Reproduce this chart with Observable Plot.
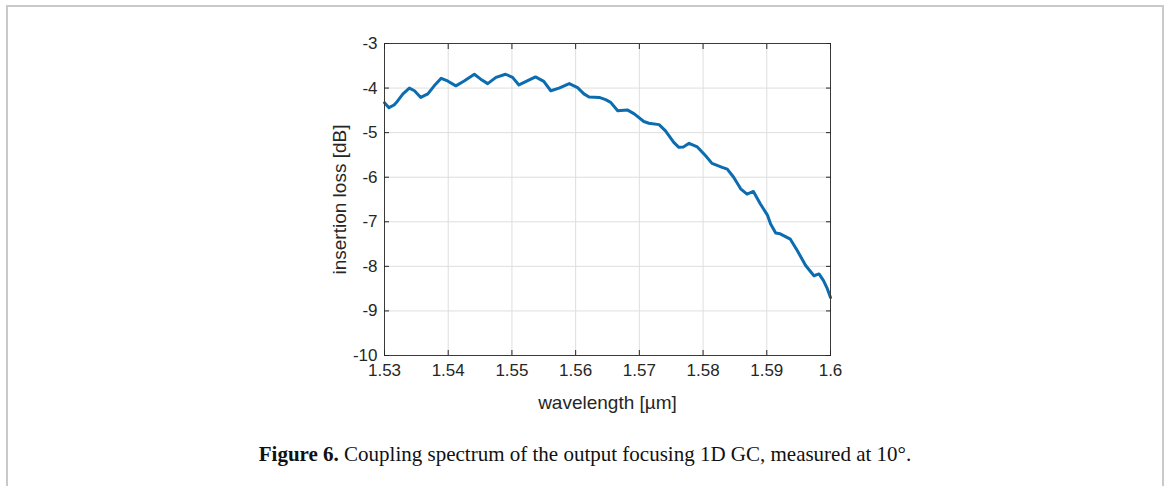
<!DOCTYPE html>
<html>
<head>
<meta charset="utf-8">
<script src="https://cdn.jsdelivr.net/npm/d3@7"></script>
<script src="https://cdn.jsdelivr.net/npm/@observablehq/plot@0.6"></script>
<style>
  html, body { margin: 0; padding: 0; background: #fff; }
  #page { position: relative; width: 1170px; height: 486px; overflow: hidden; background: #fff; }
  #frame { position: absolute; left: 6px; top: 5px; width: 1158px; height: 520px;
           border: 2px solid #c9c9c9; border-bottom: none; box-sizing: border-box; }
  #chart { position: absolute; left: 0; top: 0; }
  #caption { position: absolute; left: 0; width: 1170px; top: 442px; text-align: center;
             font-family: "Liberation Serif", "DejaVu Serif", serif; font-size: 21px; color: #111; }
  #caption b { font-weight: bold; }
</style>
</head>
<body>
<div id="page">
  <div id="frame"></div>
  <div id="chart"></div>
  <div id="caption"><b>Figure 6.</b> Coupling spectrum of the output focusing 1D GC, measured at 10°.</div>
</div>
<script>
// wavelength [µm]
const wavelength = [
  1.5300, 1.5307, 1.5315, 1.5320, 1.5329, 1.5339, 1.5347, 1.5357, 1.5368, 1.5378,
  1.5389, 1.5399, 1.5412, 1.5425, 1.5441, 1.5451, 1.5462, 1.5475, 1.5490, 1.5501,
  1.5511, 1.5524, 1.5537, 1.5550, 1.5561, 1.5574, 1.5590, 1.5603, 1.5613, 1.5621,
  1.5637, 1.5647, 1.5655, 1.5666, 1.5681, 1.5692, 1.5707, 1.5715, 1.5731, 1.5741,
  1.5754, 1.5762, 1.5769, 1.5778, 1.5791, 1.5804, 1.5814, 1.5830, 1.5838, 1.5848,
  1.5859, 1.5869, 1.5879, 1.5890, 1.5901, 1.5906, 1.5914, 1.5921, 1.5937, 1.5948,
  1.5961, 1.5974, 1.5982, 1.5989, 1.5995, 1.6000
];
// insertion loss [dB]
const insertionLoss = [
  -4.33, -4.44, -4.38, -4.30, -4.13, -4.00, -4.06, -4.21, -4.13, -3.95,
  -3.78, -3.84, -3.95, -3.84, -3.69, -3.80, -3.90, -3.76, -3.69, -3.76,
  -3.93, -3.84, -3.75, -3.85, -4.06, -4.00, -3.90, -3.99, -4.13, -4.20,
  -4.21, -4.26, -4.32, -4.51, -4.49, -4.58, -4.75, -4.79, -4.82, -4.96,
  -5.22, -5.33, -5.32, -5.24, -5.32, -5.52, -5.69, -5.78, -5.82, -6.00,
  -6.26, -6.38, -6.32, -6.60, -6.85, -7.05, -7.25, -7.27, -7.39, -7.65,
  -7.98, -8.21, -8.17, -8.32, -8.50, -8.70
];
const xTicks = [1.53, 1.54, 1.55, 1.56, 1.57, 1.58, 1.59, 1.60];
const xTickLabels = ["1.53", "1.54", "1.55", "1.56", "1.57", "1.58", "1.59", "1.6"];
const yTicks = [-10, -9, -8, -7, -6, -5, -4, -3];
const yTickLabels = ["-10", "-9", "-8", "-7", "-6", "-5", "-4", "-3"];
const xLabel = "wavelength [µm]";
const yLabel = "insertion loss [dB]";

const data = wavelength.map((w, i) => ({w, il: insertionLoss[i]}));
const xFmt = d => xTickLabels[xTicks.findIndex(t => Math.abs(t - d) < 1e-9)];
const yFmt = d => yTickLabels[yTicks.indexOf(d)];
const blank = () => "";

const ink = "#262626";
const chart = Plot.plot({
  width: 1170,
  height: 430,
  marginLeft: 384,
  marginRight: 340,
  marginTop: 43,
  marginBottom: 75,
  style: {fontFamily: "Liberation Sans, Arial, sans-serif", color: ink, background: "transparent"},
  x: {domain: [1.53, 1.6]},
  y: {domain: [-10, -3]},
  marks: [
    Plot.gridX(xTicks, {stroke: "#dedede", strokeOpacity: 1}),
    Plot.gridY(yTicks, {stroke: "#dedede", strokeOpacity: 1}),
    Plot.line(data, {x: "w", y: "il", stroke: "#0b6cb0", strokeWidth: 3, strokeLinejoin: "round", strokeLinecap: "round"}),
    Plot.frame({stroke: "#3a3a3a", strokeWidth: 1}),
    // tick labels
    Plot.axisX(xTicks, {anchor: "bottom", tickSize: 0, tickPadding: 8, tickFormat: xFmt, fontSize: 17, label: null, color: ink}),
    Plot.axisY(yTicks, {anchor: "left", tickSize: 0, tickPadding: 7, tickFormat: yFmt, fontSize: 17, label: null, color: ink}),
    // axis titles
    Plot.axisX(xTicks, {anchor: "bottom", tickSize: 0, tickFormat: blank, fontSize: 19,
      label: xLabel, labelAnchor: "center", labelOffset: 53, labelArrow: "none", color: ink}),
    Plot.axisY(yTicks, {anchor: "left", tickSize: 0, tickFormat: blank, fontSize: 19,
      label: yLabel, labelAnchor: "center", labelOffset: 52, labelArrow: "none", color: ink}),
    // inward ticks on all four sides
    Plot.axisX(xTicks, {anchor: "bottom", tickSize: -5, tickFormat: blank, label: null, stroke: ink}),
    Plot.axisX(xTicks, {anchor: "top", tickSize: -5, tickFormat: blank, label: null, stroke: ink}),
    Plot.axisY(yTicks, {anchor: "left", tickSize: -5, tickFormat: blank, label: null, stroke: ink}),
    Plot.axisY(yTicks, {anchor: "right", tickSize: -5, tickFormat: blank, label: null, stroke: ink})
  ]
});
document.getElementById("chart").appendChild(chart);
</script>
</body>
</html>
